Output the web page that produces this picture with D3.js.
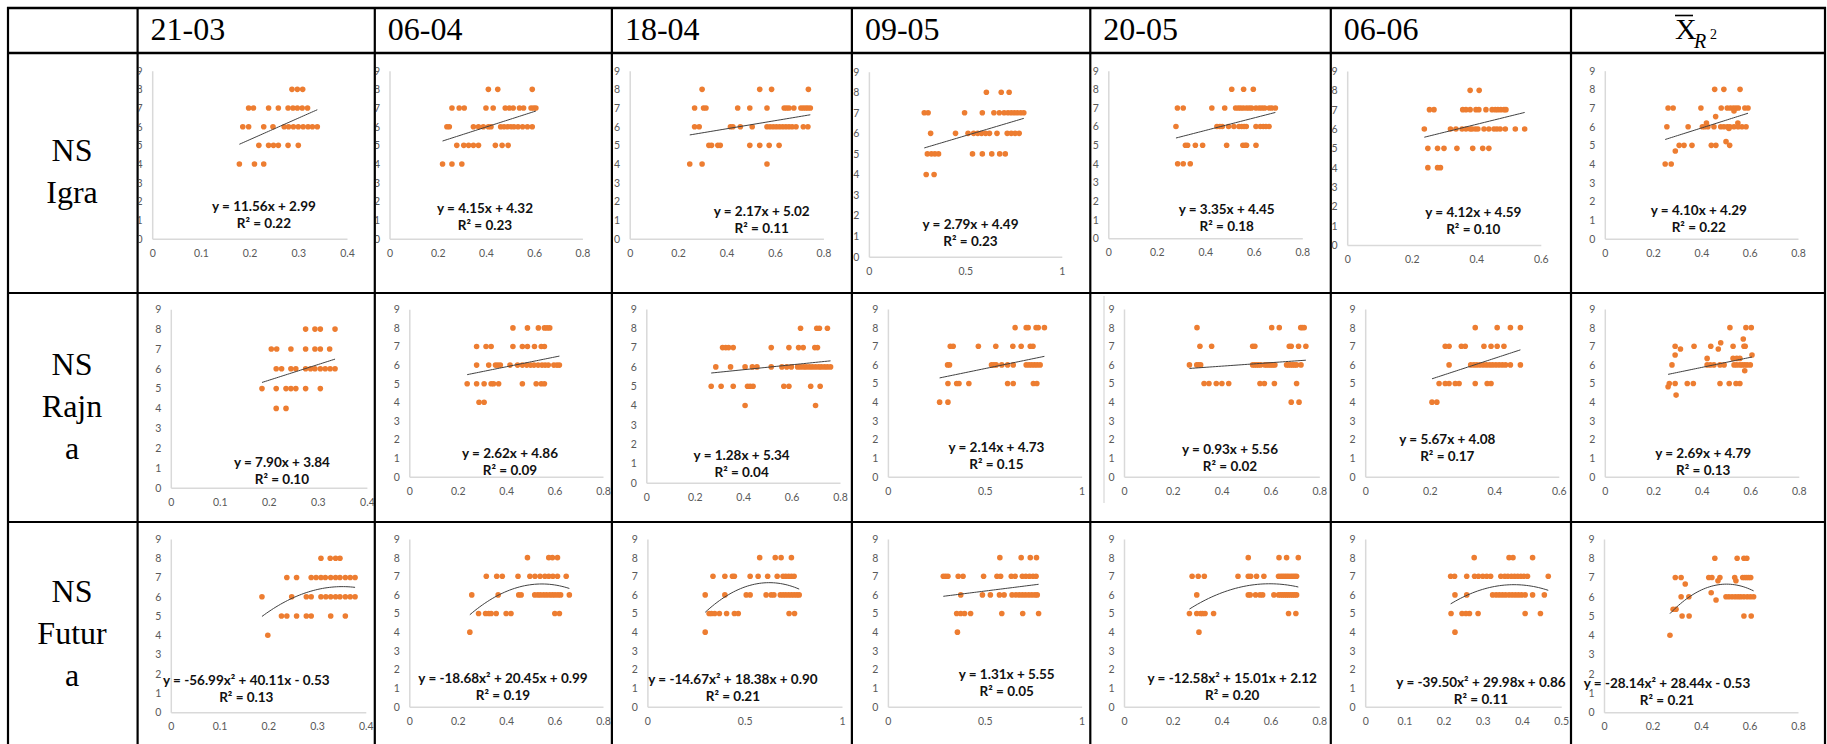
<!DOCTYPE html>
<html><head><meta charset="utf-8">
<script src="https://cdn.jsdelivr.net/npm/d3@7"></script>
<style>body{margin:0;background:#fff}svg{display:block}</style>
</head><body><svg id="c" width="1827" height="744"></svg>
<script>
// ---------------- DATA ----------------
const columnHeaders = ["21-03","06-04","18-04","09-05","20-05","06-06"];
const rowLabels = [["NS","Igra"],["NS","Rajn","a"],["NS","Futur","a"]];

// points grouped as [y, x1, x2, ...]
const igra_2103 = [[8,.287,.298,.309],[7,.198,.208,.239,.259,.279,.289,.298,.308,.319],[6,.186,.198,.229,.248,.271,.280,.290,.300,.310,.320,.329,.339],[5,.219,.239,.249,.259,.279,.300],[4,.179,.210,.229]];
const igra_0604 = [[8,.410,.449,.592],[7,.259,.289,.310,.400,.430,.480,.497,.513,.539,.556,.587,.598,.607],[6,.238,.248,.348,.369,.389,.410,.421,.461,.475,.490,.503,.516,.533,.552,.572,.592],[5,.279,.308,.328,.348,.369,.439,.467,.492],[4,.220,.259,.300]];
const igra_1804 = [[8,.299,.537,.586,.738],[7,.268,.305,.315,.446,.496,.567,.638,.648,.658,.678,.707,.717,.727,.736,.746],[6,.268,.287,.416,.426,.457,.506,.567,.580,.593,.606,.619,.632,.645,.658,.671,.687,.717,.736],[5,.327,.338,.364,.374,.496,.537,.576,.617],[4,.248,.299,.567]];
const igra_0905 = [[8,.609,.686,.727],[7,.287,.307,.496,.588,.648,.676,.701,.721,.738,.754,.770,.787,.803],[6,.320,.449,.514,.543,.564,.584,.605,.625,.664,.717,.738,.758,.779],[5,.303,.324,.342,.361,.537,.588,.637,.678,.707],[4,.297,.338]];
const igra_2005 = [[8,.509,.558,.598],[7,.285,.309,.427,.480,.525,.536,.546,.557,.570,.581,.591,.609,.623,.634,.645,.664,.674,.689],[6,.279,.448,.460,.470,.496,.518,.539,.550,.560,.569,.609,.627,.639,.650,.663],[5,.318,.327,.359,.389,.488,.555,.564,.570,.609],[4,.286,.309,.338]];
const igra_0606 = [[8,.381,.409],[7,.255,.269,.358,.368,.381,.399,.408,.430,.449,.459,.467,.476,.486,.492],[6,.239,.320,.337,.356,.368,.381,.387,.397,.405,.424,.439,.455,.464,.474,.490,.521,.550],[5,.250,.280,.300,.340,.389,.420,.439],[4,.250,.280,.289]];
const igra_mean = [[8,.455,.493,.560],[7,.262,.283,.398,.482,.507,.520,.532,.543,.553,.580,.593],[6.84,.535],[6.54,.459],[6.2,.421,.551],[6,.257,.345,.404,.414,.427,.452,.480,.493,.507,.518,.535,.552,.568,.585],[5.9,.514],[5.2,.502],[5,.308,.328,.361,.441,.460,.517],[4.7,.292],[4,.250,.275]];

const rajna_2103 = [[8,.275,.294,.305,.335],[7,.205,.216,.245,.275,.294,.305,.324],[6,.215,.226,.245,.255,.275,.285,.294,.305,.315,.325,.335],[5,.186,.215,.235,.245,.255,.275,.305],[4,.215,.235]];
const rajna_0604 = [[8,.428,.488,.533,.558,.569,.580],[7,.278,.317,.338,.428,.467,.488,.517,.545,.558],[6,.278,.328,.356,.366,.376,.416,.447,.467,.485,.501,.515,.532,.548,.561,.574,.597,.610,.620],[5,.239,.278,.309,.338,.348,.369,.467,.524,.545,.558],[4,.288,.309]];
const rajna_1804 = [[8,.637,.704,.715,.748],[7,.315,.328,.340,.359,.516,.589,.629,.648,.696,.707],[6,.287,.348,.408,.438,.457,.516,.560,.580,.599,.625,.637,.650,.661,.674,.686,.699,.712,.723,.736,.748,.761],[5,.268,.309,.359,.418,.429,.441,.568,.589,.679,.718],[4,.408,.699]];
const rajna_0905 = [[8,.657,.714,.724,.765,.776,.808],[7,.322,.337,.467,.557,.645,.688,.735,.749],[6,.308,.318,.535,.547,.559,.588,.618,.647,.714,.729,.743,.757,.771,.786],[5,.310,.355,.367,.418,.618,.647,.751,.769],[4,.267,.310]];
const rajna_2005 = [[8,.299,.605,.636,.724,.730,.738],[7,.311,.359,.527,.536,.677,.685,.715,.745],[6,.268,.298,.306,.314,.527,.535,.543,.551,.560,.577,.585,.594,.602,.610,.618,.666,.674,.683,.691,.699,.707,.725],[5,.328,.348,.378,.401,.429,.557,.575,.616,.707],[4,.685,.717]];
const rajna_0606 = [[8,.341,.409,.450,.481],[7,.248,.260,.298,.310,.368,.390,.409,.430],[6,.260,.327,.337,.346,.356,.366,.376,.386,.395,.405,.415,.425,.435,.450,.481],[5,.229,.248,.260,.279,.291,.341,.378,.390],[4,.207,.222]];
const rajna_mean = [[8,.516,.582,.604],[7.39,.571],[7.19,.478],[7,.290,.368,.437,.529,.574,.579],[6.85,.312,.468],[6.53,.290,.607],[6.35,.422,.529,.544,.557],[6,.277,.422,.435,.450,.475,.492,.533,.544,.557,.567,.577,.587,.600],[5.69,.577],[5,.266,.290,.340,.365,.475,.513,.541,.557],[4.83,.261],[4.38,.294]];

const futura_2103 = [[8,.308,.327,.338,.347],[7,.238,.258,.288,.298,.308,.317,.328,.338,.347,.358,.368,.378],[6,.187,.248,.278,.288,.308,.318,.328,.338,.347,.358,.368,.378],[5,.227,.238,.258,.278,.288,.328,.358],[4,.199]];
const futura_0604 = [[8,.488,.576,.591,.612],[7,.318,.361,.384,.449,.498,.519,.540,.560,.576,.593,.612,.648],[6,.258,.367,.452,.462,.518,.531,.542,.555,.567,.580,.591,.602,.614,.625,.661],[5,.286,.315,.328,.338,.359,.400,.420,.601,.620],[4,.250]];
const futura_1804 = [[8,.577,.657,.687,.740],[7,.337,.398,.437,.447,.528,.569,.618,.667,.697,.711,.726,.740,.754],[6,.297,.398,.508,.528,.610,.636,.650,.683,.697,.711,.726,.740,.754,.768,.780],[5,.317,.329,.346,.370,.407,.447,.467,.728,.756],[4,.297]];
const futura_0905 = [[8,.578,.688,.735,.767],[7,.286,.298,.310,.363,.388,.494,.563,.582,.637,.657,.694,.712,.731,.749,.765],[6,.376,.488,.529,.576,.600,.641,.661,.678,.694,.710,.727,.743,.759,.771],[5,.355,.376,.396,.427,.588,.696,.778],[4,.359]];
const futura_2005 = [[8,.509,.635,.666,.714],[7,.279,.304,.329,.467,.509,.519,.543,.573,.633,.642,.650,.658,.666,.674,.683,.691,.699,.707],[6,.298,.509,.517,.539,.557,.568,.614,.633,.642,.650,.658,.666,.674,.683,.691,.699,.707],[5,.268,.298,.314,.322,.332,.367,.674,.704],[4,.307]];
const futura_0606 = [[8,.278,.367,.377,.427],[7,.218,.228,.259,.279,.289,.300,.310,.320,.346,.356,.364,.373,.381,.389,.397,.405,.414,.467],[6,.229,.259,.325,.334,.342,.350,.358,.367,.375,.383,.391,.399,.408,.427,.457],[5,.219,.247,.257,.266,.288,.408,.447],[4,.229]];
const futura_mean = [[8,.457,.549,.577,.589],[7,.294,.318,.432,.445,.478,.539,.572,.581,.589,.597,.605],[6.83,.470,.544],[6.66,.335],[6.21,.442],[6,.318,.350,.503,.515,.528,.541,.553,.564,.577,.591,.604,.617],[5.83,.462],[5.35,.285,.297],[5,.322,.351,.577,.607],[4,.272]];

// trendline coefficients [a (x²), b (x), c]
const igraEq   = [[0,11.56,2.99],[0,4.15,4.32],[0,2.17,5.02],[0,2.79,4.49],[0,3.35,4.45],[0,4.12,4.59],[0,4.10,4.29]];
const rajnaEq  = [[0,7.90,3.84],[0,2.62,4.86],[0,1.28,5.34],[0,2.14,4.73],[0,0.93,5.56],[0,5.67,4.08],[0,2.69,4.79]];
const futuraEq = [[-56.99,40.11,-0.53],[-18.68,20.45,0.99],[-14.67,18.38,0.90],[0,1.31,5.55],[-12.58,15.01,2.12],[-39.50,29.98,0.86],[-28.14,28.44,-0.53]];
const igraR2   = [0.22,0.23,0.11,0.23,0.18,0.10,0.22];
const rajnaR2  = [0.10,0.09,0.04,0.15,0.02,0.17,0.13];
const futuraR2 = [0.13,0.19,0.21,0.05,0.20,0.11,0.21];

// x-axis tick labels per chart
const t04 = [0,0.1,0.2,0.3,0.4], t05 = [0,0.1,0.2,0.3,0.4,0.5], t06 = [0,0.2,0.4,0.6], t08 = [0,0.2,0.4,0.6,0.8], t10 = [0,0.5,1];
const igraTicks   = [t04,t08,t08,t10,t08,t06,t08];
const rajnaTicks  = [t04,t08,t08,t10,t08,t06,t08];
const futuraTicks = [t04,t08,t10,t10,t08,t05,t08];
const yTicks = [0,1,2,3,4,5,6,7,8,9];

// ---------------- LAYOUT ----------------
const colX = [8, 137.6, 374.8, 611.9, 851.9, 1090.3, 1330.8, 1571, 1825];
const rowY = [8, 53, 293, 522, 748];
// plot box [left, right, top(9), bottom(0), equationX, equationY]
const boxes = [
 [[152.2,347,70.7,238.7,263.9,206],[389.5,582.4,70.7,238.7,485,208.3],[629.7,823.4,70.7,238.7,761.7,211],[868.9,1061.8,71.7,256.7,970.5,224.3],[1108.3,1302.3,70.7,238.3,1226.7,209.3],[1347.2,1540.8,71,245,1473.3,212.3],[1604.8,1798,70.7,238.7,1698.8,210]],
 [[170.8,366.9,309.3,487.7,281.9,461.7],[409.3,603,309.3,476.7,510,452.7],[646.3,840,309,482.7,741.6,455],[887.9,1081.6,309,476.7,996.4,446.7],[1124,1319.3,309,476.7,1230,448.7],[1365.2,1558.8,309,476.7,1447.3,439],[1604.8,1798.8,309,476.7,1703.2,453.3]],
 [[170.8,365.8,539,712.3,246.3,680],[409.3,603,539,706.7,503,678.3],[647.4,842,539,706.7,732.9,679.3],[887.9,1081.6,539,706.7,1006.7,674.3],[1124,1319.3,539,706.7,1232.2,678.3],[1365.2,1561.2,539,706.7,1481,682.3],[1604,1798,539,712.3,1667,683.3]]
];

const rowsData = [
  {sets:[igra_2103,igra_0604,igra_1804,igra_0905,igra_2005,igra_0606,igra_mean], eq:igraEq, r2:igraR2, ticks:igraTicks},
  {sets:[rajna_2103,rajna_0604,rajna_1804,rajna_0905,rajna_2005,rajna_0606,rajna_mean], eq:rajnaEq, r2:rajnaR2, ticks:rajnaTicks},
  {sets:[futura_2103,futura_0604,futura_1804,futura_0905,futura_2005,futura_0606,futura_mean], eq:futuraEq, r2:futuraR2, ticks:futuraTicks}
];

// ---------------- DRAW ----------------
const svg = d3.select("#c");
const defs = svg.append("defs");
const SERIF = "'Liberation Serif','Times New Roman',serif";
const SANS = "Lato,'Open Sans',sans-serif";
const ORANGE = "#ED7D31";

const expand = g => g.flatMap(([y, ...xs]) => xs.map(x => ({x, y})));
const f2 = v => Math.abs(v).toFixed(2);
function eqText([a,b,c]) {
  let s = "y = ";
  if (a !== 0) s += (a<0?"-":"") + f2(a) + "x\u00B2 " + (b<0?"- ":"+ ") + f2(b) + "x";
  else s += (b<0?"-":"") + f2(b) + "x";
  return s + (c<0?" - ":" + ") + f2(c);
}

// light chart-border artefact in one cell
svg.append("line").attr("x1",1104).attr("x2",1104).attr("y1",296).attr("y2",503)
  .attr("stroke","#cfcfcf").attr("stroke-width",1);

rowsData.forEach((row, r) => {
  row.sets.forEach((set, c) => {
    const [L,R,T,B,ex,ey] = boxes[r][c];
    const ticks = row.ticks[c];
    const x = d3.scaleLinear().domain([0, d3.max(ticks)]).range([L,R]);
    const y = d3.scaleLinear().domain([0,9]).range([B,T]);
    const cid = `clip${r}${c}`;
    defs.append("clipPath").attr("id",cid).append("rect")
      .attr("x",colX[c+1]+1).attr("y",rowY[r+1]+1)
      .attr("width",colX[c+2]-colX[c+1]-2).attr("height",rowY[r+2]-rowY[r+1]-2);
    const g = svg.append("g").attr("clip-path",`url(#${cid})`);

    const gx = g.append("g").attr("transform",`translate(0,${B})`)
      .call(d3.axisBottom(x).tickValues(ticks).tickSize(0).tickSizeOuter(0).tickPadding(10.5).tickFormat(d3.format("~g")));
    const gy = g.append("g").attr("transform",`translate(${L},0)`)
      .call(d3.axisLeft(y).tickValues(yTicks).tickSize(0).tickSizeOuter(0).tickPadding(9.5));
    [gx,gy].forEach(a => {
      a.select(".domain").attr("stroke","#d9d9d9").attr("stroke-width",1.5);
      a.selectAll("text").attr("font-family",SANS).attr("font-size",10.5).attr("fill","#595959");
    });

    const pts = expand(set);
    g.append("g").selectAll("circle").data(pts).join("circle")
      .attr("cx",d=>x(d.x)).attr("cy",d=>y(d.y)).attr("r",2.8).attr("fill",ORANGE);

    const [a,b,cc] = row.eq[c];
    const [x0,x1] = d3.extent(pts, d=>d.x);
    const line = d3.line().x(d=>x(d)).y(d=>y(a*d*d + b*d + cc));
    const xs = d3.range(0, 41).map(i => x0 + (x1-x0)*i/40);
    g.append("path").attr("d", line(xs)).attr("fill","none").attr("stroke","#404040").attr("stroke-width",1);

    const t = g.append("g").attr("font-family",SANS).attr("font-weight","bold").attr("font-size",13.5)
      .attr("fill","#111").attr("text-anchor","middle");
    t.append("text").attr("x",ex).attr("y",ey).attr("dominant-baseline","central").text(eqText(row.eq[c]));
    t.append("text").attr("x",ex).attr("y",ey+16.8).attr("dominant-baseline","central").text("R\u00B2 = " + row.r2[c].toFixed(2));
  });
});

// headers
columnHeaders.forEach((h,i) => {
  svg.append("text").attr("x",colX[i+1]+13).attr("y",39.5)
    .attr("font-family",SERIF).attr("font-size",32).attr("fill","#000").text(h);
});
// mean header  X̄ with subscript R²
svg.append("text").attr("x",1675).attr("y",39.3).attr("font-family",SERIF).attr("font-size",30).text("X");
svg.append("line").attr("x1",1675).attr("x2",1693).attr("y1",15.5).attr("y2",15.5).attr("stroke","#000").attr("stroke-width",1.6);
svg.append("text").attr("x",1694).attr("y",47.5).attr("font-family",SERIF).attr("font-style","italic").attr("font-size",20).text("R");
svg.append("text").attr("x",1710).attr("y",39.3).attr("font-family",SERIF).attr("font-size",14).text("2");

// row labels
rowLabels.forEach((lines, r) => {
  const mid = (rowY[r+1] + rowY[r+2]) / 2 + 9;
  lines.forEach((s, i) => {
    svg.append("text").attr("x",72).attr("y", mid + (i - (lines.length-1)/2) * 42)
      .attr("text-anchor","middle").attr("font-family",SERIF).attr("font-size",32).text(s);
  });
});

// table grid
colX.forEach(cx => svg.append("line").attr("x1",cx).attr("x2",cx).attr("y1",rowY[0]-1).attr("y2",744)
  .attr("stroke","#000").attr("stroke-width",2.2));
rowY.slice(0,4).forEach((ry,i) => svg.append("line").attr("x1",colX[0]-1).attr("x2",colX[8]+1).attr("y1",ry).attr("y2",ry)
  .attr("stroke","#000").attr("stroke-width", i < 2 ? 2.6 : 2));
</script></body></html>
